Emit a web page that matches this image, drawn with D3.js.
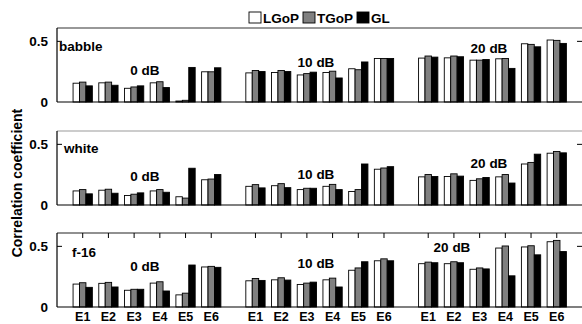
<!DOCTYPE html>
<html>
<head>
<meta charset="utf-8">
<script src="https://cdn.jsdelivr.net/npm/d3@7"></script>
<style>
  body { margin: 0; background: #fff; }
  text { font-family: "Liberation Sans", Arial, sans-serif; font-weight: bold; }
</style>
</head>
<body>
<div id="chart"></div>
<script>
// categories and groups
const categories = ["E1", "E2", "E3", "E4", "E5", "E6"];
const snrLabels = ["0 dB", "10 dB", "20 dB"];
const methods = ["LGoP", "TGoP", "GL"];
const noiseNames = ["babble", "white", "f-16"];
const yTicks = [0, 0.5];

// values, 18 per series: 0 dB E1..E6, 10 dB E1..E6, 20 dB E1..E6
const babbleLGoP = [0.155, 0.158, 0.113, 0.158, 0.008, 0.249,  0.240, 0.243, 0.223, 0.243, 0.274, 0.359,  0.362, 0.364, 0.345, 0.356, 0.480, 0.511];
const babbleTGoP = [0.164, 0.164, 0.124, 0.167, 0.014, 0.249,  0.260, 0.260, 0.234, 0.254, 0.266, 0.359,  0.379, 0.379, 0.345, 0.359, 0.475, 0.508];
const babbleGL   = [0.133, 0.138, 0.133, 0.119, 0.285, 0.282,  0.251, 0.251, 0.246, 0.198, 0.330, 0.359,  0.370, 0.373, 0.350, 0.277, 0.455, 0.483];

const whiteLGoP = [0.116, 0.122, 0.078, 0.116, 0.068, 0.208,  0.154, 0.159, 0.127, 0.154, 0.111, 0.295,  0.232, 0.235, 0.203, 0.232, 0.338, 0.427];
const whiteTGoP = [0.127, 0.130, 0.089, 0.127, 0.057, 0.214,  0.168, 0.176, 0.138, 0.170, 0.127, 0.305,  0.251, 0.257, 0.216, 0.251, 0.351, 0.441];
const whiteGL   = [0.092, 0.097, 0.100, 0.105, 0.303, 0.251,  0.141, 0.143, 0.138, 0.127, 0.338, 0.316,  0.235, 0.238, 0.227, 0.181, 0.419, 0.430];

const f16LGoP = [0.189, 0.195, 0.138, 0.197, 0.100, 0.330,  0.216, 0.224, 0.186, 0.224, 0.303, 0.381,  0.357, 0.357, 0.311, 0.486, 0.495, 0.538];
const f16TGoP = [0.200, 0.203, 0.146, 0.208, 0.114, 0.335,  0.235, 0.241, 0.197, 0.238, 0.322, 0.397,  0.370, 0.373, 0.322, 0.503, 0.505, 0.549];
const f16GL   = [0.162, 0.165, 0.146, 0.132, 0.346, 0.327,  0.219, 0.222, 0.205, 0.165, 0.373, 0.381,  0.365, 0.365, 0.314, 0.257, 0.430, 0.457];

const panelData = [
  [babbleLGoP, babbleTGoP, babbleGL],
  [whiteLGoP, whiteTGoP, whiteGL],
  [f16LGoP, f16TGoP, f16GL]
];

// layout
const width = 582, height = 324;
const panels = [
  { top: 28, bottom: 102, border: "#333", name: [59, 46], snr: [[145, 70], [316, 62], [489, 48]] },
  { top: 131, bottom: 205, border: "#999", name: [64, 148], snr: [[145, 176], [316, 174], [489, 163]] },
  { top: 233, bottom: 307, border: "#222", name: [72, 252], snr: [[145, 266], [316, 263], [452, 247]] }
];
const fills = ["#ffffff", "#808080", "#000000"];
const groupStep = 6.72;
const barW = 0.25;

const svg = d3.select("#chart").append("svg")
  .attr("width", width)
  .attr("height", height);

const x = d3.scaleLinear().domain([0, 20.5]).range([57, 584]);
const pos = (g, i) => 1 + i + g * groupStep;

panels.forEach((p, k) => {
  const y = d3.scaleLinear().domain([0, 0.61]).range([p.bottom, p.top]);
  const gp = svg.append("g");

  // frame
  gp.append("line").attr("x1", x(0)).attr("x2", width).attr("y1", p.top).attr("y2", p.top)
    .attr("stroke", p.border).attr("stroke-width", 1.2);

  // bars
  panelData[k].forEach((series, m) => {
    gp.selectAll(null)
      .data(series)
      .join("rect")
        .attr("x", (d, j) => x(pos(Math.floor(j / 6), j % 6) + (m - 1.5) * barW))
        .attr("width", x(barW) - x(0))
        .attr("y", d => y(d))
        .attr("height", d => y(0) - y(d))
        .attr("fill", fills[m])
        .attr("stroke", "#000")
        .attr("stroke-width", 0.9);
  });

  // axes
  gp.append("line").attr("x1", x(0)).attr("x2", x(0)).attr("y1", p.top).attr("y2", p.bottom)
    .attr("stroke", "#000").attr("stroke-width", 1.2);
  gp.append("line").attr("x1", x(0)).attr("x2", width).attr("y1", p.bottom).attr("y2", p.bottom)
    .attr("stroke", "#000").attr("stroke-width", 1.2);

  yTicks.forEach(t => {
    gp.append("text")
      .attr("x", 48).attr("y", y(t))
      .attr("text-anchor", "end")
      .attr("dominant-baseline", "central")
      .attr("font-size", 13.5)
      .text(t === 0 ? "0" : t);
    if (t > 0) {
      gp.append("line").attr("x1", x(0)).attr("x2", x(0) + 5).attr("y1", y(t)).attr("y2", y(t))
        .attr("stroke", "#000");
      gp.append("line").attr("x1", x(20.5) - 7).attr("x2", x(20.5)).attr("y1", y(t)).attr("y2", y(t))
        .attr("stroke", "#000");
    }
  });

  // panel name and snr labels
  gp.append("text")
    .attr("x", p.name[0]).attr("y", p.name[1])
    .attr("dominant-baseline", "central")
    .attr("font-size", 13.5)
    .text(noiseNames[k]);
  snrLabels.forEach((s, g) => {
    gp.append("text")
      .attr("x", p.snr[g][0]).attr("y", p.snr[g][1])
      .attr("text-anchor", "middle")
      .attr("dominant-baseline", "central")
      .attr("font-size", 13.5)
      .text(s);
  });

  // x ticks along the top of the last panel, labels below it
  if (k === panels.length - 1) {
    snrLabels.forEach((s, g) => {
      categories.forEach((c, i) => {
        const cx = x(pos(g, i));
        gp.append("line").attr("x1", cx).attr("x2", cx).attr("y1", p.top).attr("y2", p.top + 5)
          .attr("stroke", "#000");
        gp.append("text")
          .attr("x", cx).attr("y", 321)
          .attr("text-anchor", "middle")
          .attr("font-size", 12.5)
          .text(c);
      });
    });
  }
});

// y axis title
svg.append("text")
  .attr("transform", "translate(17,183) rotate(-90)")
  .attr("text-anchor", "middle")
  .attr("dominant-baseline", "central")
  .attr("font-size", 14)
  .text("Correlation coefficient");

// legend
const legendX = [249, 303, 357];
methods.forEach((m, i) => {
  svg.append("rect")
    .attr("x", legendX[i]).attr("y", 12)
    .attr("width", 12).attr("height", 11)
    .attr("fill", fills[i]).attr("stroke", "#000").attr("stroke-width", 0.9);
  svg.append("text")
    .attr("x", legendX[i] + 14).attr("y", 23)
    .attr("font-size", 13.5)
    .text(m);
});
</script>
</body>
</html>
